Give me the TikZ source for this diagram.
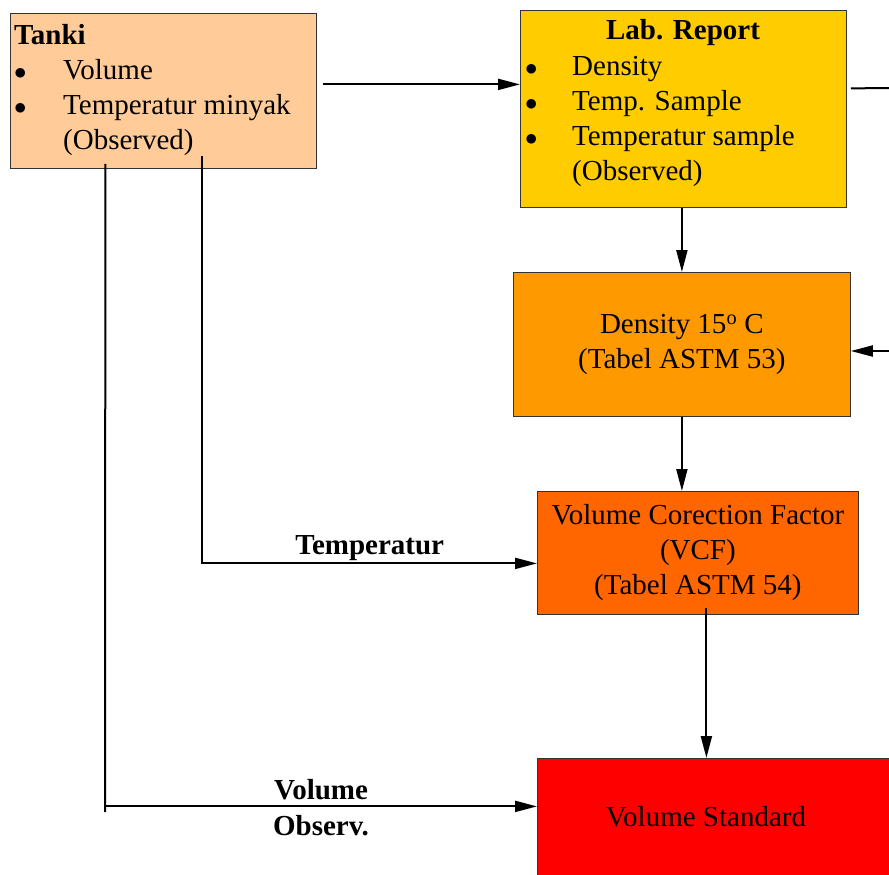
\documentclass[tikz,border=0pt]{standalone}
\usepackage{fontspec}
\setmainfont{Liberation Serif}
\usetikzlibrary{arrows.meta, positioning, calc}
\definecolor{boxline}{HTML}{333333}
\definecolor{tankfill}{HTML}{FFCC99}
\definecolor{labfill}{HTML}{FFCC00}
\definecolor{densfill}{HTML}{FF9900}
\definecolor{vcffill}{HTML}{FF6600}
\definecolor{stdfill}{HTML}{FF0000}
\newcommand{\bigfont}{\fontsize{29}{35}\selectfont}
\newcommand{\dotmark}{{\fontsize{40}{35}\selectfont$\bullet$}}
\newcommand{\flowbox}[6]{%
  \node[draw=boxline, line width=0.8pt, fill=#5, anchor=north west,
        minimum width=#3pt, minimum height=#4pt, inner sep=0pt,
        align=center] (#1) at (#2) {#6};}

\begin{document}
\begin{tikzpicture}[x=1pt, y=-1pt, font=\bigfont,
    flow/.style={draw, line width=2pt, -{Triangle[length=22pt, width=11pt]}},
    plain/.style={draw, line width=2pt},
    flowlabel/.style={font=\bigfont\bfseries, inner sep=2pt}]
      \clip (0,0) rectangle (889,875);
      \flowbox{tanki}{10,13}{306}{155}{tankfill}{}
      \flowbox{lab}{520,10}{326}{197}{labfill}{}
      \flowbox{dens}{513,272}{337}{144}{densfill}{Density 15\textsuperscript{o} C\\(Tabel ASTM 53)}
      \flowbox{vcf}{537,491}{321}{123}{vcffill}{Volume Corection Factor\\(VCF)\\(Tabel ASTM 54)}
      \flowbox{vstd}{537,758}{400}{150}{stdfill}{}
      \node[anchor=north west, inner sep=0pt, align=left] (tankitext) at (14,24)
        {\textbf{Tanki}\\
         \makebox[49pt][l]{\dotmark}Volume\\
         \makebox[49pt][l]{\dotmark}Temperatur minyak\\
         \hspace*{49pt}(Observed)};
      \node[anchor=base, inner sep=0pt] (labtitle) at (683,40) {\textbf{Lab. Report}};
      \node[anchor=north west, inner sep=0pt, align=left] (labitems) at (525,56)
        {\makebox[47pt][l]{\dotmark}Density\\
         \makebox[47pt][l]{\dotmark}Temp. Sample\\
         \makebox[47pt][l]{\dotmark}Temperatur sample\\
         \hspace*{47pt}(Observed)};
      \node (stdtext) at (706,817) {Volume Standard};
      \coordinate (tkout) at ([xshift=6pt, yshift=6.5pt]tanki.east);
      \coordinate (labout) at ([xshift=4pt, yshift=20.5pt]lab.east);
      \coordinate (labend) at (889,88);
      \coordinate (densin) at (889,351);
      \coordinate (vcfout) at ([xshift=8.5pt, yshift=7pt]vcf.south);
      \coordinate (tktemp) at ([xshift=39pt, yshift=13pt]tanki.south);
      \coordinate (tkvol) at ([xshift=-58pt, yshift=5pt]tanki.south);
      \coordinate (volend) at (105,812);
      \coordinate (volin) at ([yshift=27pt]vstd.west);
      \draw[flow] (tkout) -- (tkout -| lab.west);
      \draw[plain] (labout) -- (labend);
      \draw[flow] (densin) -- (densin -| dens.east);
      \draw[flow] (lab.south -| dens.north) -- (dens.north);
      \draw[flow] (dens.south) -- (dens.south |- vcf.north);
      \draw[flow] (vcfout) -- (vcfout |- vstd.north);
      \draw[flow] (tktemp) |- ([yshift=-10.5pt]vcf.west)
        node[flowlabel, pos=0.75, above] (templabel) {Temperatur};
      \draw[plain] (tkvol) -- (volend);
      \draw[flow] (volend |- volin) -- (volin)
        node[flowlabel, midway, above=3pt] (vollabel) {Volume}
        node[flowlabel, midway, below=6pt] (obslabel) {Observ.};
    \end{tikzpicture}
\end{document}
